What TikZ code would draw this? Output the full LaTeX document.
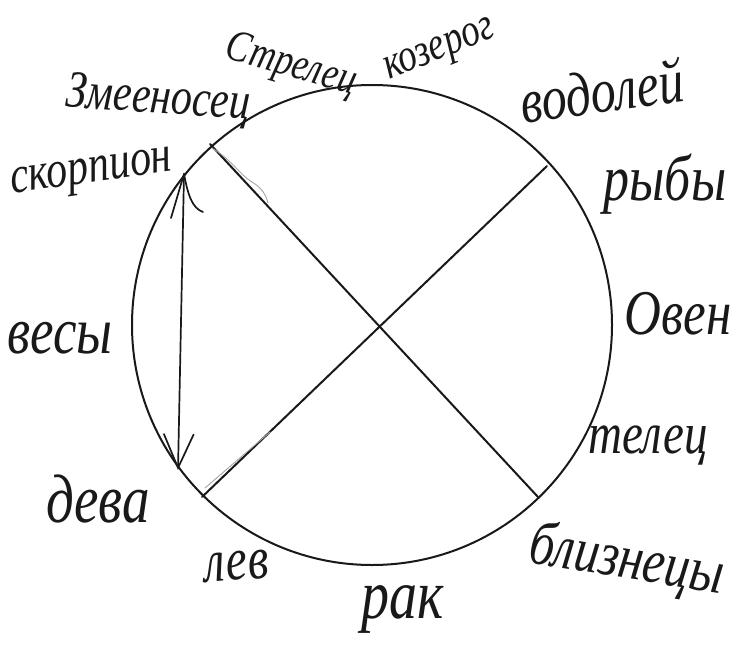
\documentclass[tikz,border=0pt]{standalone}
\usepackage{fontspec}
\setmainfont{Liberation Serif}
\usetikzlibrary{arrows.meta}
\begin{document}
\begin{tikzpicture}[x=1pt,y=-1pt,
  ink/.style={draw=black!90, line width=2pt, line cap=round, line join=round},
  faint/.style={draw=black!35, line width=0.9pt, line cap=round},
  lab/.style={font=\fontsize{#1}{#1}\selectfont\itshape, yscale=1.25, text=black!90, anchor=base, inner sep=0pt},
]
\useasboundingbox[fill=white] (0,0) rectangle (739,661);

% wheel
\coordinate (c) at (372,325);
\draw[ink] (c) circle[radius=240];
\coordinate (pTL) at (210,144);
\coordinate (pBR) at (538,497);
\coordinate (pTR) at (547,166);
\coordinate (pBL) at (202,497);
\draw[ink] (pTL) -- (pBR);
\draw[ink] (pTR) -- (pBL);

% faint second strokes
\coordinate (fa1) at (212,148);
\coordinate (fa2) at (268,203);
\draw[faint] (fa1) .. controls (232,160) and (240,175) .. (252,182) .. controls (262,188) and (266,195) .. (fa2);
\coordinate (fb1) at (205,488);
\coordinate (fb2) at (270,432);
\draw[faint] (fb1) -- (fb2);

% arrow on the left
\coordinate (ap) at (184,174);
\coordinate (tip) at (178,470);
\coordinate (m1) at (171,218);
\coordinate (m2) at (203,212);
\draw[ink, line width=1.7pt, -{Straight Barb[length=34pt,width=30pt,line width=1.7pt]}] (ap) -- (tip);
\draw[ink, line width=1.7pt] (m1) -- (ap);
\draw[ink, line width=1.7pt] (ap) .. controls (188,195) and (192,208) .. (m2);

% labels
\node[rotate=-4, lab=42] (zm) at (157,113) {Змееносец};
\node[rotate=-16, lab=36] (st) at (288,76) {Стрелец};
\node[rotate=22, lab=37] (kz) at (443,58) {козерог};
\node[rotate=8, lab=50] (vd) at (605,112) {водолей};
\node[lab=52] (rb) at (665,200) {рыбы};
\node[rotate=8, lab=42] (sk) at (93,182) {скорпион};
\node[lab=53] (vs) at (60,353) {весы};
\node[lab=51] (ov) at (678,334) {Овен};
\node[lab=47] (tc) at (648,453) {телец};
\node[lab=55] (dv) at (98,522) {дева};
\node[rotate=5, lab=48] (lv) at (238,580) {лев};
\node[lab=56] (rk) at (403,618) {рак};
\node[rotate=-9, lab=50] (bz) at (624,578) {близнецы};
\end{tikzpicture}
\end{document}
